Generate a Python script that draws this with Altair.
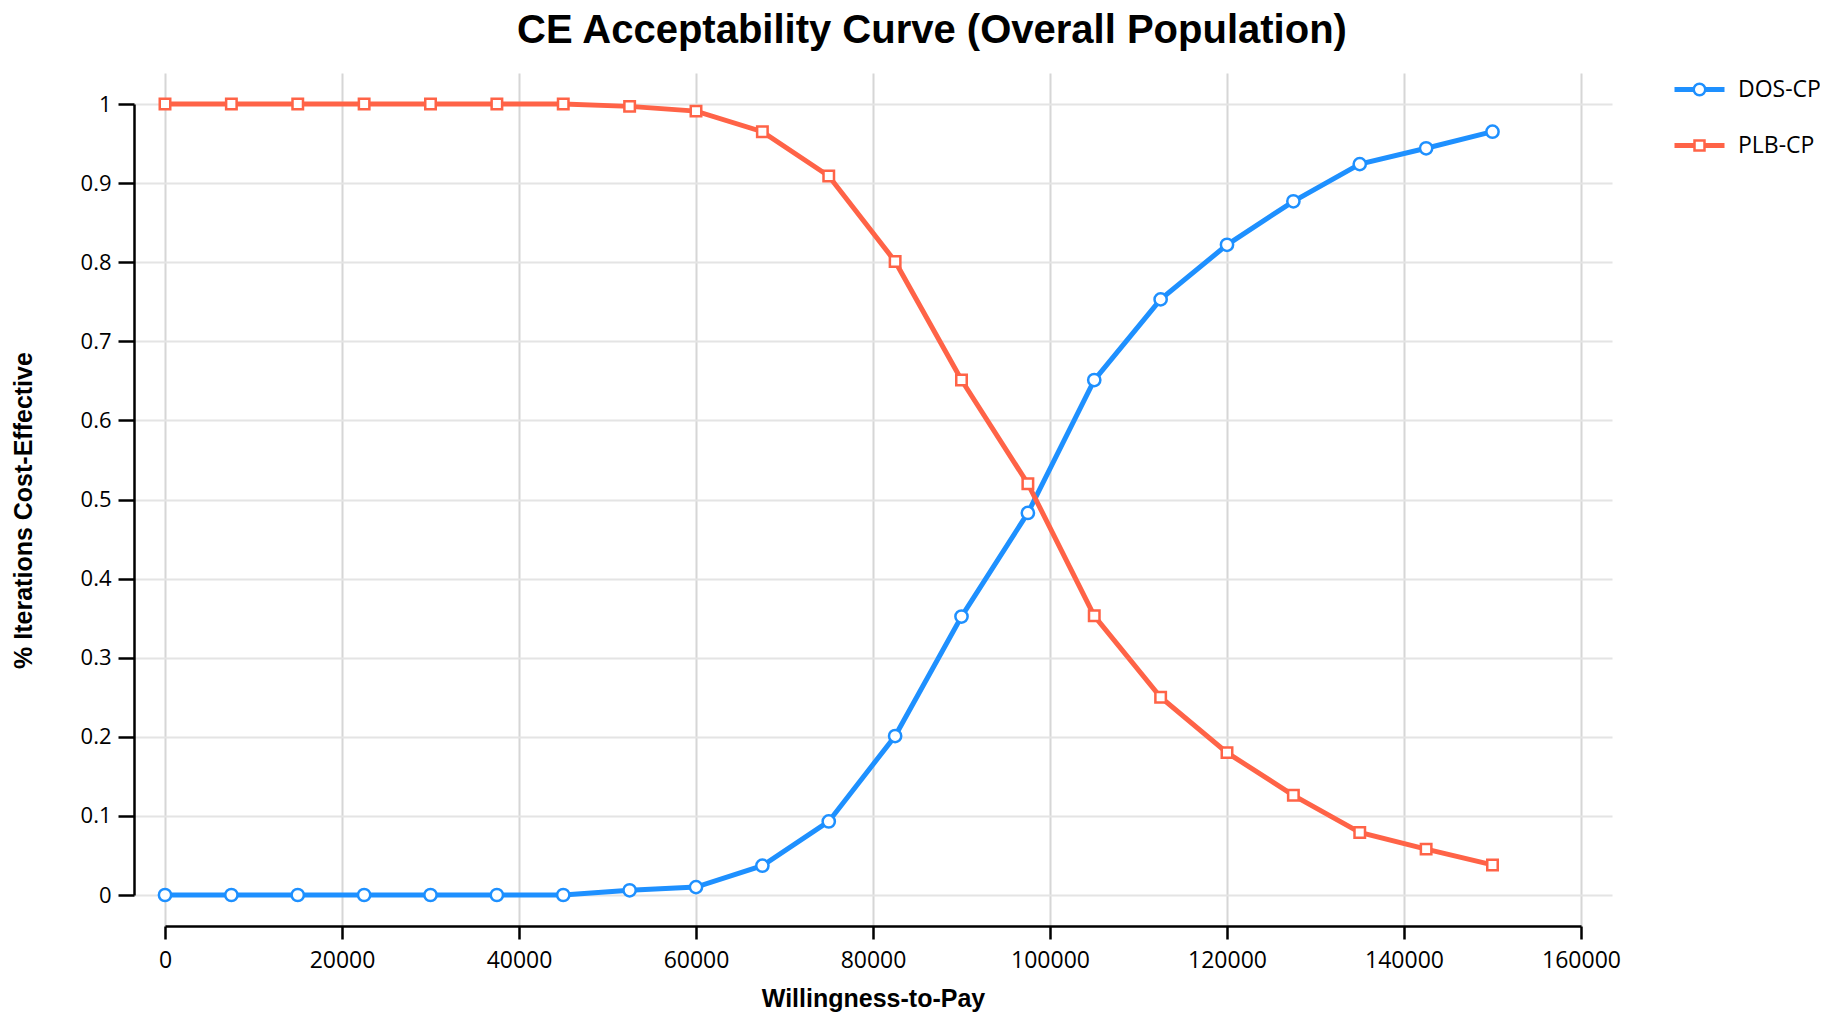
import altair as alt
import pandas as pd

# ---- data ----
wtp = [0, 7500, 15000, 22500, 30000, 37500, 45000, 52500, 60000, 67500, 75000,
       82500, 90000, 97500, 105000, 112500, 120000, 127500, 135000, 142500, 150000]
dos_cp = [0, 0, 0, 0, 0, 0, 0, 0.006, 0.010, 0.037, 0.093,
          0.201, 0.352, 0.483, 0.651, 0.753, 0.822, 0.877, 0.924, 0.944, 0.965]
plb_cp = [1, 1, 1, 1, 1, 1, 1, 0.997, 0.991, 0.965, 0.909,
          0.801, 0.651, 0.520, 0.353, 0.250, 0.180, 0.126, 0.079, 0.058, 0.038]
series_names = ["DOS-CP", "PLB-CP"]
series_colors = ["#1E90FF", "#FF6347"]
series_shapes = ["circle", "square"]
series_sizes = [150, 110]
x_ticks = [0, 20000, 40000, 60000, 80000, 100000, 120000, 140000, 160000]
y_ticks = [0, 0.1, 0.2, 0.3, 0.4, 0.5, 0.6, 0.7, 0.8, 0.9, 1]

rows = []
for name, vals in zip(series_names, [dos_cp, plb_cp]):
    for w, v in zip(wtp, vals):
        rows.append({"wtp": w, "share": v, "series": name})
df = pd.DataFrame(rows)

W, H = 1478, 853
PAD = 31

# legend symbols: line segment with marker in the middle (unit square -1..1)
def seg(r):
    return (f"M-1,-0.05H-{r}M-1,0H-{r}M-1,0.05H-{r}"
            f"M{r},-0.05H1M{r},0H1M{r},0.05H1")
r, k = 0.23, 0.127
circle_path = seg(r) + (f"M{r},0C{r},{k},{k},{r},0,{r}C-{k},{r},-{r},{k},-{r},0"
                        f"C-{r},-{k},-{k},-{r},0,-{r}C{k},-{r},{r},-{k},{r},0Z")
square_path = seg(0.2) + "M-0.2,-0.2H0.2V0.2H-0.2Z"

x_plot = alt.Scale(domain=[0, 160000], range=[PAD, W - PAD], nice=False, zero=False)
y_plot = alt.Scale(domain=[0, 1], range=[H - PAD, PAD], nice=False, zero=False)
x_grid = alt.Scale(domain=[0, 160000], padding=PAD, nice=False, zero=False)
y_grid = alt.Scale(domain=[0, 1], padding=PAD, nice=False, zero=False)

grid = alt.Chart(df).mark_point(opacity=0).encode(
    x=alt.X("wtp:Q", scale=x_grid,
            axis=alt.Axis(orient="top", values=x_ticks, grid=True, gridColor="#d6d6d6",
                          gridWidth=2, domain=False, ticks=False, labels=False, title=None)),
    y=alt.Y("share:Q", scale=y_grid,
            axis=alt.Axis(orient="right", values=y_ticks, grid=True, gridColor="#e4e4e4",
                          gridWidth=2, domain=False, ticks=False, labels=False, title=None)),
)

axis_common = dict(domainColor="black", domainWidth=2.5, tickColor="black", tickWidth=2.5,
                   labelFont="Open Sans", labelColor="black",
                   titleFont="Liberation Sans", titleFontSize=25, titleFontWeight="bold",
                   titleColor="black", grid=False, labelFlush=False)
x_axis = alt.Axis(orient="bottom", values=x_ticks, format="d", tickSize=13,
                  labelPadding=10, labelFontSize=23, title="Willingness-to-Pay", titleY=80,
                  titleBaseline="alphabetic", **axis_common)
y_axis = alt.Axis(orient="left", values=y_ticks, format="~g", tickSize=16,
                  labelPadding=7, labelFontSize=22, title="% Iterations Cost-Effective",
                  titleX=-103, titleY=437, titleBaseline="alphabetic", **axis_common)

X = alt.X("wtp:Q", scale=x_plot, axis=x_axis)
Y = alt.Y("share:Q", scale=y_plot, axis=y_axis)

layers = []
for name, col in zip(series_names, series_colors):
    layers.append(alt.Chart(df).transform_filter(alt.datum.series == name)
                  .mark_line(strokeWidth=5, color=col).encode(x=X, y=Y))
for name, col, shp, sz in zip(series_names, series_colors, series_shapes, series_sizes):
    layers.append(alt.Chart(df).transform_filter(alt.datum.series == name)
                  .mark_point(filled=False, fill="white", stroke=col, strokeWidth=2.5,
                              opacity=1, shape=shp, size=sz).encode(x=X, y=Y))

leg = alt.Legend(title=None, orient="none", legendX=1539, legendY=-10, padding=0,
                 symbolSize=2500, symbolStrokeWidth=2.5, symbolFillColor="white",
                 labelFont="Open Sans", labelFontSize=23,
                 labelColor="black", labelOffset=12, rowPadding=17)

# legend-only layer: no rows drawn, entries come from the explicit scale domains
legend_layer = alt.Chart(df).transform_filter("false").mark_point(
    filled=False, fill="white", strokeWidth=2.5, opacity=1).encode(
    x=X, y=Y,
    color=alt.Color("series:N", scale=alt.Scale(domain=series_names, range=series_colors),
                    legend=leg),
    shape=alt.Shape("series:N", scale=alt.Scale(domain=series_names,
                                                range=[circle_path, square_path]), legend=leg),
)
layers.append(legend_layer)

inner = alt.layer(*layers)

chart = alt.layer(grid, inner).resolve_scale(x="independent", y="independent").properties(
    width=W, height=H,
    title=alt.TitleParams("CE Acceptability Curve (Overall Population)", font="Liberation Sans",
                          fontSize=40, fontWeight="bold", color="black", anchor="middle",
                          dx=59, dy=36, baseline="alphabetic", offset=16),
    padding={"left": 126, "top": 65, "right": 208, "bottom": 86},
    autosize=alt.AutoSizeParams(type="none"),
).configure(background="white").configure_view(stroke=None)

chart.save("out.html", embed_options={"renderer": "svg", "actions": False})
